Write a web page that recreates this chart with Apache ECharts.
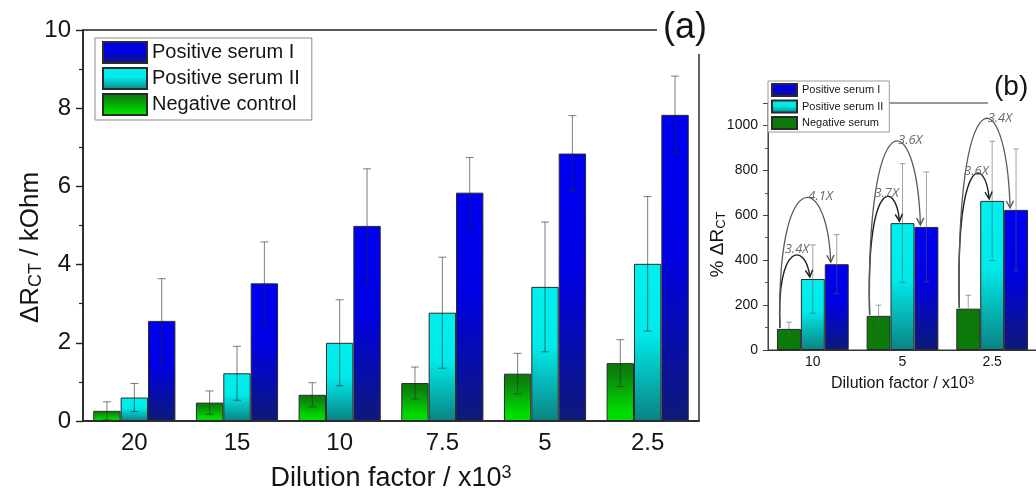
<!DOCTYPE html>
<html>
<head>
<meta charset="utf-8">
<script src="https://cdn.jsdelivr.net/npm/echarts@6/dist/echarts.min.js"></script>
<style>
  html, body { margin: 0; padding: 0; background: #fff; }
  #chart { width: 1036px; height: 493px; }
</style>
</head>
<body>
<div id="chart"></div>
<script>
// Panel (a): ΔRct in kOhm for each dilution factor (x10^3)
const categoriesA = ['20', '15', '10', '7.5', '5', '2.5'];
const negA      = [0.26, 0.47, 0.67, 0.97, 1.21, 1.48];
const negErrA   = [0.23, 0.30, 0.31, 0.41, 0.52, 0.60];
const pos2A     = [0.60, 1.22, 2.00, 2.77, 3.43, 4.02];
const pos2ErrA  = [0.36, 0.69, 1.10, 1.42, 1.66, 1.72];
const pos1A     = [2.56, 3.52, 4.99, 5.84, 6.84, 7.83];
const pos1ErrA  = [1.08, 1.06, 1.46, 0.90, 0.97, 0.99];

// Panel (b): % ΔRct for three dilutions
const categoriesB = ['10', '5', '2.5'];
const negB      = [94, 152, 184];
const negErrB   = [30, 48, 60];
const pos2B     = [316, 565, 664];
const pos2ErrB  = [152, 265, 266];
const pos1B     = [382, 548, 624];
const pos1ErrB  = [132, 245, 271];

const yTicksA = { min: 0, max: 10, interval: 2 };
const yTicksB = { min: 0, max: 1100, interval: 200 };

const FONT = '"Liberation Sans", Arial, sans-serif';
const INK = '#151515';
const CAT_GAP = 0.2;           // barCategoryGap as a fraction
const SERIES_PER_GROUP = 3;

const chart = echarts.init(document.getElementById('chart'), null, { renderer: 'canvas' });
const LG = echarts.graphic.LinearGradient;

const blueFill  = () => new LG(0, 0, 0, 1, [
  { offset: 0, color: '#0000f2' }, { offset: 0.45, color: '#0000e2' }, { offset: 1, color: '#0e1a78' }]);
const cyanFill  = () => new LG(0, 0, 0, 1, [
  { offset: 0, color: '#00f0ef' }, { offset: 0.45, color: '#00eaea' }, { offset: 1, color: '#0b8282' }]);
const greenFillA = () => new LG(0, 0, 0, 1, [
  { offset: 0, color: '#0b7a0b' }, { offset: 0.15, color: '#0b800b' }, { offset: 0.85, color: '#00dc00' }, { offset: 1, color: '#00e000' }]);
const greenFillB = '#0b7a0b';

const barBorder = { borderColor: '#2a2a2a', borderWidth: 1 };

function barSeries(name, values, fill, xi) {
  return {
    type: 'bar', name, data: values,
    xAxisIndex: xi, yAxisIndex: xi,
    barGap: '0%', barCategoryGap: (CAT_GAP * 100) + '%',
    itemStyle: Object.assign({ color: fill }, barBorder),
    emphasis: { disabled: true },
    z: 2
  };
}

// Error bars sit over the bar in the given slot (0 = left, 1 = middle, 2 = right)
function errorSeries(id, values, errs, slot, xi, color, capHalf) {
  return {
    type: 'custom', name: id, xAxisIndex: xi, yAxisIndex: xi, z: 3, silent: true,
    data: values.map((v, i) => [i, v, errs[i]]),
    encode: { x: 0, y: 1 },
    renderItem(params, api) {
      const i = api.value(0), v = api.value(1), e = api.value(2);
      const band = api.size([1, 0])[0];
      const bw = band * (1 - CAT_GAP) / SERIES_PER_GROUP;
      const x = api.coord([i, v])[0] + (slot - 1) * bw;
      const yTop = api.coord([i, v + e])[1];
      const yBot = api.coord([i, Math.max(v - e, 0)])[1];
      const st = { stroke: color, lineWidth: 1, fill: null };
      return {
        type: 'group', children: [
          { type: 'line', shape: { x1: x, y1: yTop, x2: x, y2: yBot }, style: st },
          { type: 'line', shape: { x1: x - capHalf, y1: yTop, x2: x + capHalf, y2: yTop }, style: st },
          { type: 'line', shape: { x1: x - capHalf, y1: yBot, x2: x + capHalf, y2: yBot }, style: st }
        ]
      };
    }
  };
}

// Fold-change arrows in panel (b): negative -> positive serum II (inner), negative -> positive serum I (outer)
function arrowHead(ex, ey, cx, cy, color) {
  const dx = ex - cx, dy = ey - cy, len = Math.hypot(dx, dy) || 1;
  const ux = dx / len, uy = dy / len, px = -uy, py = ux;
  const L = 7, W = 3.6;
  return {
    type: 'polyline',
    shape: { points: [[ex - ux * L + px * W, ey - uy * L + py * W], [ex, ey], [ex - ux * L - px * W, ey - uy * L - py * W]] },
    style: { stroke: color, lineWidth: 1.4, fill: null }
  };
}
function arc(sx, sy, ex, ey, peakY, color, lw) {
  const cy = (peakY - 0.125 * (sy + ey)) / 0.75;
  const c1x = sx - 4, c2x = ex - 4;
  const peakX = 0.125 * sx + 0.375 * c1x + 0.375 * c2x + 0.125 * ex;
  return {
    peakX,
    els: [
      { type: 'bezierCurve', shape: { x1: sx, y1: sy, x2: ex, y2: ey, cpx1: c1x, cpy1: cy, cpx2: c2x, cpy2: cy },
        style: { stroke: color, lineWidth: lw, fill: null } },
      arrowHead(ex, ey, c2x, cy, color)
    ]
  };
}
const foldSeries = {
  type: 'custom', name: 'fold-change', xAxisIndex: 1, yAxisIndex: 1, z: 4, silent: true,
  data: negB.map((v, i) => [i, v, pos2B[i], pos1B[i]]),
  encode: { x: 0, y: 1 },
  renderItem(params, api) {
    const i = api.value(0), n = api.value(1), p2 = api.value(2), p1 = api.value(3);
    const band = api.size([1, 0])[0];
    const bw = band * (1 - CAT_GAP) / SERIES_PER_GROUP;
    const cx = api.coord([i, 0])[0];
    const yN = api.coord([i, n])[1], yP2 = api.coord([i, p2])[1], yP1 = api.coord([i, p1])[1];
    const sx = cx - 1.5 * bw + 3, sy = yN - 1;
    const inner = arc(sx, sy, cx - 3, yP2 - 2, yP2 - 22, '#1e1e1e', 1.4);
    const outer = arc(sx, sy, cx + bw - 6, yP1 - 2, yP2 - 80, '#5a5a5a', 1.3);
    const labelStyle = { fill: '#6a6a6a', fontSize: 13, fontStyle: 'italic', fontFamily: '"Open Sans", "Liberation Sans", sans-serif' };
    return {
      type: 'group',
      children: inner.els.concat(outer.els, [
        { type: 'text', x: inner.peakX + 5, y: yP2 - 30,
          style: Object.assign({ text: (p2 / n).toFixed(1) + 'X', align: 'center', verticalAlign: 'middle' }, labelStyle) },
        { type: 'text', x: outer.peakX + 6, y: yP2 - 83,
          style: Object.assign({ text: (p1 / n).toFixed(1) + 'X', align: 'left', verticalAlign: 'middle' }, labelStyle) }
      ])
    };
  }
};

const option = {
  animation: false,
  textStyle: { fontFamily: FONT, color: INK },
  title: [
    { text: '(a)', left: 657, top: 6, padding: [2, 2, 6, 6], backgroundColor: '#fff',
      textStyle: { fontSize: 36, fontWeight: 'normal', color: INK, fontFamily: FONT, lineHeight: 40 } },
    { text: '(b)', left: 988, top: 68, padding: [2, 20, 6, 6], backgroundColor: '#fff',
      textStyle: { fontSize: 28, fontWeight: 'normal', color: INK, fontFamily: FONT, lineHeight: 34 } }
  ],
  legend: [
    { orient: 'vertical', left: 95, top: 38, padding: [3, 12, 4, 7], itemGap: 3,
      itemWidth: 44, itemHeight: 21, icon: 'rect',
      backgroundColor: '#fff', borderColor: '#8a8a8a', borderWidth: 1,
      textStyle: { fontSize: 20, color: INK, fontFamily: FONT },
      data: ['Positive serum I', 'Positive serum II', 'Negative control'] },
    { orient: 'vertical', left: 768, top: 81, padding: [2, 6, 2, 3], itemGap: 2.5,
      itemWidth: 25, itemHeight: 12, icon: 'rect', z: 10,
      backgroundColor: '#fff', borderColor: '#9a9a9a', borderWidth: 1,
      textStyle: { fontSize: 11, color: INK, fontFamily: FONT },
      data: ['Positive serum I', 'Positive serum II', 'Negative serum'] }
  ],
  grid: [
    { left: 83, top: 30, width: 616, height: 391, show: true, borderColor: '#222', borderWidth: 1.4,
      backgroundColor: 'transparent', containLabel: false, outerBoundsMode: 'none' },
    { left: 768, top: 103, width: 269, height: 247, show: true, borderColor: '#333', borderWidth: 1,
      backgroundColor: 'transparent', containLabel: false, outerBoundsMode: 'none' }
  ],
  xAxis: [
    { type: 'category', gridIndex: 0, data: categoriesA,
      axisLine: { lineStyle: { color: '#222', width: 1.6 } }, axisTick: { show: false },
      axisLabel: { fontSize: 24, color: INK, margin: 10, fontFamily: FONT },
      name: '{m|Dilution factor / x10}{s|3}', nameLocation: 'middle', nameGap: 43, nameMoveOverlap: false,
      nameTextStyle: { rich: {
        m: { fontSize: 27, lineHeight: 30, color: INK, fontFamily: FONT },
        s: { fontSize: 18, lineHeight: 18, verticalAlign: 'top', color: INK, fontFamily: FONT } } } },
    { type: 'category', gridIndex: 1, data: categoriesB,
      axisLine: { lineStyle: { color: '#333', width: 1 } }, axisTick: { show: false },
      axisLabel: { fontSize: 14, color: INK, margin: 5, fontFamily: FONT },
      name: '{m|Dilution factor / x10}{s|3}', nameLocation: 'middle', nameGap: 25, nameMoveOverlap: false,
      nameTextStyle: { rich: {
        m: { fontSize: 16, lineHeight: 18, color: INK, fontFamily: FONT },
        s: { fontSize: 11, lineHeight: 11, verticalAlign: 'top', color: INK, fontFamily: FONT } } } }
  ],
  yAxis: [
    { type: 'value', gridIndex: 0, min: yTicksA.min, max: yTicksA.max, interval: yTicksA.interval,
      axisLine: { show: true, lineStyle: { color: '#222', width: 1.6 } },
      axisTick: { show: true, inside: false, length: 7, lineStyle: { color: '#222', width: 1.4 } },
      minorTick: { show: true, splitNumber: 2, length: 4, lineStyle: { color: '#222', width: 1.2 } },
      splitLine: { show: false },
      axisLabel: { fontSize: 24, color: INK, margin: 12, fontFamily: FONT, formatter: v => String(v) },
      name: '{m|ΔR}{s|CT}{m| / kOhm}', nameLocation: 'middle', nameGap: 38, nameMoveOverlap: false,
      nameTextStyle: { padding: [0, 44, 0, 0], rich: {
        m: { fontSize: 26, lineHeight: 28, color: INK, fontFamily: FONT },
        s: { fontSize: 18, lineHeight: 22, verticalAlign: 'bottom', color: INK, fontFamily: FONT } } } },
    { type: 'value', gridIndex: 1, min: yTicksB.min, max: yTicksB.max, interval: yTicksB.interval,
      axisLine: { show: true, lineStyle: { color: '#444', width: 1 } },
      axisTick: { show: true, inside: false, length: 5, lineStyle: { color: '#444', width: 1 } },
      minorTick: { show: true, splitNumber: 2, length: 3, lineStyle: { color: '#555', width: 1 } },
      splitLine: { show: false },
      axisLabel: { fontSize: 14, color: INK, margin: 10, fontFamily: FONT, showMaxLabel: false,
        formatter: v => (v >= yTicksB.max ? '' : String(v)) },
      name: '{m|% ΔR}{s|CT}', nameLocation: 'middle', nameGap: 40, nameMoveOverlap: false,
      nameTextStyle: { padding: [0, 36, 0, 0], rich: {
        m: { fontSize: 19, lineHeight: 21, color: INK, fontFamily: FONT },
        s: { fontSize: 13, lineHeight: 17, verticalAlign: 'bottom', color: INK, fontFamily: FONT } } } }
  ],
  series: [
    barSeries('Negative control', negA, greenFillA(), 0),
    barSeries('Positive serum II', pos2A, cyanFill(), 0),
    barSeries('Positive serum I', pos1A, blueFill(), 0),
    errorSeries('err-neg-a', negA, negErrA, 0, 0, 'rgba(40,40,40,0.6)', 4),
    errorSeries('err-pos2-a', pos2A, pos2ErrA, 1, 0, 'rgba(40,40,40,0.6)', 4),
    errorSeries('err-pos1-a', pos1A, pos1ErrA, 2, 0, 'rgba(40,40,40,0.6)', 4),
    barSeries('Negative serum', negB, greenFillB, 1),
    barSeries('Positive serum II', pos2B, cyanFill(), 1),
    barSeries('Positive serum I', pos1B, blueFill(), 1),
    errorSeries('err-neg-b', negB, negErrB, 0, 1, 'rgba(90,90,90,0.55)', 3),
    errorSeries('err-pos2-b', pos2B, pos2ErrB, 1, 1, 'rgba(90,90,90,0.55)', 3),
    errorSeries('err-pos1-b', pos1B, pos1ErrB, 2, 1, 'rgba(90,90,90,0.55)', 3),
    foldSeries
  ]
};

chart.setOption(option);
</script>
</body>
</html>
